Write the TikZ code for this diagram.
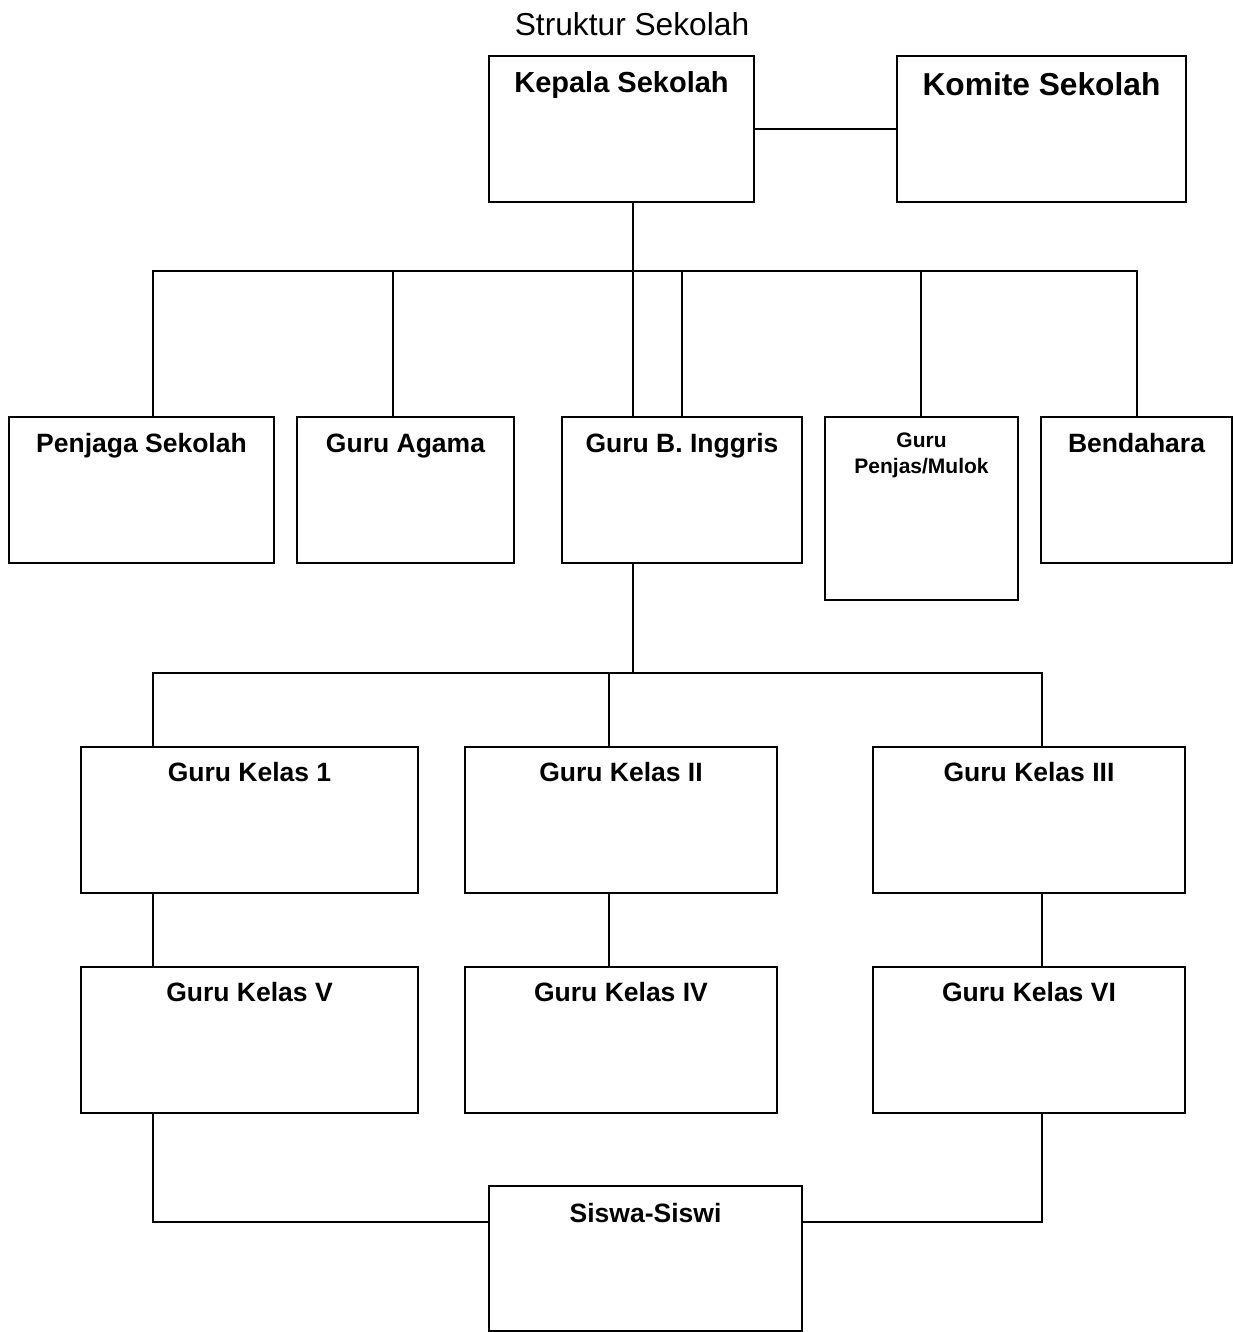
\documentclass[tikz,border=0pt]{standalone}
\usepackage{fontspec}
\setmainfont{Liberation Sans}
\usetikzlibrary{calc}

\def\lw{1.6pt}

\begin{document}
\begin{tikzpicture}[x=1pt,y=1pt,
    unit/.style={draw, line width=\lw, anchor=north west, inner sep=0pt, outer sep=0pt},
    lbl/.style={anchor=base, inner sep=0pt, font=\fontsize{26.5}{30}\selectfont\bfseries},
    link/.style={line width=\lw}]
        \useasboundingbox (0,0) rectangle (1233,-1332);
        % title
        \node[anchor=base, font=\fontsize{31.7}{36}\selectfont] (title) at (632,-36) {Struktur Sekolah};
        % top level
        \node[unit, minimum width=265, minimum height=146] (kepala) at (489,-56) {};
        \node[lbl, font=\fontsize{29}{33}\selectfont\bfseries] (kepala-t) at ([yshift=-37]kepala.north) {Kepala Sekolah};
        \node[unit, minimum width=289, minimum height=146] (komite) at (897,-56) {};
        \node[lbl, font=\fontsize{31.7}{36}\selectfont\bfseries] (komite-t) at ([yshift=-40]komite.north) {Komite Sekolah};
        \draw[link] (kepala.east) -- (komite.west);
        % second level
        \node[unit, minimum width=265, minimum height=146] (penjaga) at (9,-417) {};
        \node[lbl] (penjaga-t) at ([yshift=-35]penjaga.north) {Penjaga Sekolah};
        \node[unit, minimum width=217, minimum height=146] (agama) at (297,-417) {};
        \node[lbl] (agama-t) at ([yshift=-35]agama.north) {Guru Agama};
        \node[unit, minimum width=240, minimum height=146] (inggris) at (562,-417) {};
        \node[lbl] (inggris-t) at ([yshift=-35]inggris.north) {Guru B. Inggris};
        \node[unit, minimum width=193, minimum height=183] (penjas) at (825,-417) {};
        \node[lbl, font=\fontsize{21}{26}\selectfont\bfseries] (penjas-t1) at ([yshift=-30]penjas.north) {Guru};
        \node[lbl, font=\fontsize{21}{26}\selectfont\bfseries] (penjas-t2) at ([yshift=-56]penjas.north) {Penjas/Mulok};
        \node[unit, minimum width=191, minimum height=146] (bendahara) at (1041,-417) {};
        \node[lbl] (bendahara-t) at ([yshift=-35]bendahara.north) {Bendahara};
        % bus below kepala sekolah
        \coordinate (busA) at (633,-271);
        \coordinate (tapA1) at (153,-271);
        \coordinate (tapA2) at (393,-271);
        \coordinate (tapA3) at (682,-271);
        \coordinate (tapA4) at (921,-271);
        \coordinate (tapA5) at (1137,-271);
        \draw[link] (kepala.south -| busA) -- (busA |- inggris.north);
        \draw[link] (tapA1 |- penjaga.north) -- (tapA1) -- (tapA5) -- (tapA5 |- bendahara.north);
        \draw[link] (tapA2) -- (tapA2 |- agama.north);
        \draw[link] (tapA3) -- (tapA3 |- inggris.north);
        \draw[link] (tapA4) -- (tapA4 |- penjas.north);
        % class teachers
        \node[unit, minimum width=337, minimum height=146] (kelas1) at (81,-747) {};
        \node[lbl] (kelas1-t) at ([yshift=-34]kelas1.north) {Guru Kelas 1};
        \node[unit, minimum width=312, minimum height=146] (kelas2) at (465,-747) {};
        \node[lbl] (kelas2-t) at ([yshift=-34]kelas2.north) {Guru Kelas II};
        \node[unit, minimum width=312, minimum height=146] (kelas3) at (873,-747) {};
        \node[lbl] (kelas3-t) at ([yshift=-34]kelas3.north) {Guru Kelas III};
        \node[unit, minimum width=337, minimum height=146] (kelas5) at (81,-967) {};
        \node[lbl] (kelas5-t) at ([yshift=-34]kelas5.north) {Guru Kelas V};
        \node[unit, minimum width=312, minimum height=146] (kelas4) at (465,-967) {};
        \node[lbl] (kelas4-t) at ([yshift=-34]kelas4.north) {Guru Kelas IV};
        \node[unit, minimum width=312, minimum height=146] (kelas6) at (873,-967) {};
        \node[lbl] (kelas6-t) at ([yshift=-34]kelas6.north) {Guru Kelas VI};
        % bus below guru b. inggris
        \coordinate (busB) at (633,-673);
        \coordinate (tapB1) at (153,-673);
        \coordinate (tapB2) at (609,-673);
        \coordinate (tapB3) at (1042,-673);
        \draw[link] (inggris.south -| busB) -- (busB);
        \draw[link] (tapB1 |- kelas1.north) -- (tapB1) -- (tapB3) -- (tapB3 |- kelas3.north);
        \draw[link] (tapB2) -- (tapB2 |- kelas2.north);
        \draw[link] (kelas1.south -| tapB1) -- (kelas5.north -| tapB1);
        \draw[link] (kelas2.south -| tapB2) -- (kelas4.north -| tapB2);
        \draw[link] (kelas3.south -| tapB3) -- (kelas6.north -| tapB3);
        % students
        \node[unit, minimum width=313, minimum height=145] (siswa) at (489,-1186) {};
        \node[lbl] (siswa-t) at ([yshift=-36]siswa.north) {Siswa-Siswi};
        \coordinate (joinL) at (153,-1222);
        \coordinate (joinR) at (1042,-1222);
        \draw[link] (kelas5.south -| joinL) -- (joinL) -- (joinL -| siswa.west);
        \draw[link] (kelas6.south -| joinR) -- (joinR) -- (joinR -| siswa.east);
    \end{tikzpicture}
\end{document}
